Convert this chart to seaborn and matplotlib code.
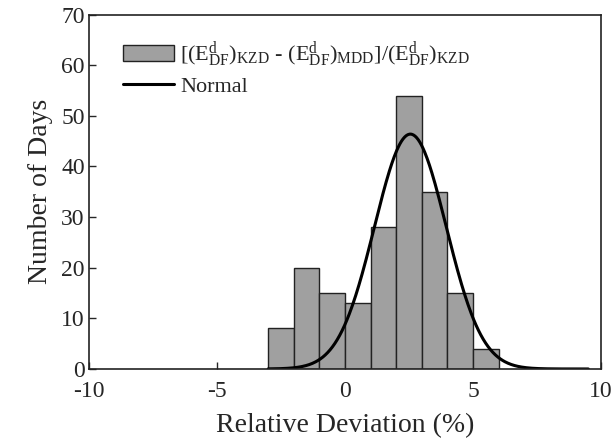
import numpy as np
import pandas as pd
import seaborn as sns
from matplotlib import pyplot as plt

# bin edges and counts
bin_edges = [-3, -2, -1, 0, 1, 2, 3, 4, 5, 6]
counts = [8, 20, 15, 13, 28, 54, 35, 15, 4]

# normal curve as drawn: mean, sd, peak height
norm_mu = 2.55
norm_sd = 1.4
norm_peak = 46.4

hist_label = (r'[(E$^{\rm d}_{\rm DF}$)$_{\rm KZD}$ - (E$^{\rm d}_{\rm DF}$)$_{\rm MDD}$]'
              r'/(E$^{\rm d}_{\rm DF}$)$_{\rm KZD}$')

sns.set_style("ticks")
plt.rcParams['font.family'] = ['Liberation Serif', 'DejaVu Serif']
plt.rcParams['mathtext.fontset'] = 'custom'
plt.rcParams['mathtext.rm'] = 'Liberation Serif'
plt.rcParams['mathtext.it'] = 'Liberation Serif:italic'
plt.rcParams['axes.unicode_minus'] = False

centers = [(a + b) / 2 for a, b in zip(bin_edges[:-1], bin_edges[1:])]
df = pd.DataFrame({"dev": centers, "n": counts})

xs = np.linspace(-3, 9.5, 400)
curve = pd.DataFrame({"x": xs, "y": norm_peak * np.exp(-0.5 * ((xs - norm_mu) / norm_sd) ** 2)})

fig = plt.figure(figsize=(6.14, 4.44), dpi=100)
ax = fig.add_axes([0.145, 0.169, 0.834, 0.798])

sns.histplot(data=df, x="dev", weights="n", bins=bin_edges, color="#a0a0a0",
             edgecolor="#222222", linewidth=1.0, alpha=1, ax=ax, label=hist_label)
sns.lineplot(data=curve, x="x", y="y", color="black", linewidth=2.2, ax=ax, label="Normal")

ax.set_xlim(-10, 10)
ax.set_ylim(0, 70)
ax.set_xticks([-10, -5, 0, 5, 10])
ax.set_yticks(range(0, 71, 10))
ax.tick_params(direction="in", labelsize=17, length=5, width=1, pad=3)
ax.tick_params(axis="x", pad=9)
for s in ax.spines.values():
    s.set_linewidth(1.2)
    s.set_color("#222222")

ax.set_xlabel("Relative Deviation (%)", fontsize=20, labelpad=8)
ax.set_ylabel("Number of Days", fontsize=20, labelpad=6)

handles, labels = ax.get_legend_handles_labels()
ax.legend(handles[::-1], labels[::-1], loc="upper left", frameon=False, fontsize=16,
          handlelength=2.3, handletextpad=0.3, labelspacing=0.3, borderaxespad=0.3,
          bbox_to_anchor=(0.035, 0.975))

fig.savefig("out.png", dpi=100)
